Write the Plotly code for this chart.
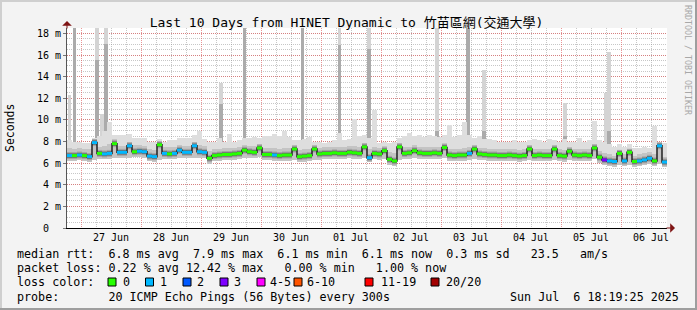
import pandas as pd
import plotly.graph_objects as go

# ---------------- data ----------------
start = "2025-06-26 18:24"
end = "2025-07-06 18:24"

median_ms = [6.7, 6.7, 6.75, 6.7, 6.6, 7.9, 6.9, 6.85, 6.9, 7.8,
             7.0, 7.0, 7.6, 7.05, 7.1, 7.05, 6.65, 6.6, 7.7, 6.9,
             6.85, 6.9, 7.2, 7.0, 7.0, 7.6, 7.05, 7.0, 6.45, 6.7,
             6.75, 6.8, 6.8, 6.85, 6.9, 7.2, 7.05, 7.0, 7.4, 6.8,
             6.8, 6.75, 6.7, 6.75, 6.75, 7.3, 6.6, 6.65, 6.7, 7.3,
             6.85, 6.9, 6.9, 6.95, 6.9, 6.9, 7.0, 6.95, 6.9, 7.5,
             6.5, 6.9, 6.85, 7.15, 6.35, 6.2, 7.5, 6.9, 6.95, 7.15,
             6.95, 6.9, 6.9, 6.95, 6.9, 7.45, 6.75, 6.7, 6.75, 6.75,
             6.9, 7.3, 6.85, 6.8, 6.75, 6.75, 6.7, 6.7, 6.75, 6.7,
             6.65, 6.7, 7.3, 6.7, 6.75, 6.7, 6.7, 7.3, 6.7, 6.65,
             7.1, 6.75, 6.7, 6.75, 6.7, 7.4, 6.55, 6.3, 6.2, 6.15,
             6.9, 6.2, 7.0, 6.15, 6.2, 6.3, 6.45, 6.2, 7.6, 6.1]

loss_count = [1, 0, 1, 0, 1, 1, 0, 1, 1, 0,
              1, 1, 1, 0, 1, 1, 1, 1, 0, 1,
              0, 1, 1, 1, 1, 1, 1, 1, 0, 0,
              0, 0, 0, 0, 0, 0, 0, 0, 0, 0,
              0, 1, 0, 0, 0, 0, 0, 0, 0, 0,
              0, 0, 0, 0, 0, 0, 0, 0, 0, 0,
              1, 0, 0, 0, 0, 0, 0, 0, 0, 0,
              0, 0, 0, 0, 0, 0, 0, 0, 0, 0,
              1, 0, 0, 0, 0, 0, 0, 0, 0, 0,
              0, 0, 0, 0, 0, 0, 0, 0, 0, 0,
              0, 0, 0, 0, 0, 0, 0, 3, 1, 1,
              0, 1, 0, 0, 1, 1, 1, 0, 1, 1]

ping_min = [6.2, 6.2, 6.3, 6.2, 6.1, 6.3, 6.4, 6.4, 6.4, 6.5,
            6.5, 6.5, 6.5, 6.6, 6.6, 6.5, 6.2, 6.1, 6.3, 6.4,
            6.4, 6.4, 6.5, 6.5, 6.5, 6.5, 6.5, 6.5, 5.9, 6.2,
            6.2, 6.3, 6.3, 6.3, 6.4, 6.5, 6.5, 6.5, 6.6, 6.3,
            6.3, 6.2, 6.2, 6.2, 6.2, 6.3, 6.1, 6.1, 6.2, 6.3,
            6.3, 6.4, 6.4, 6.4, 6.4, 6.4, 6.5, 6.4, 6.4, 6.5,
            6.1, 6.4, 6.3, 6.4, 5.8, 5.7, 6.3, 6.4, 6.4, 6.5,
            6.4, 6.4, 6.4, 6.4, 6.4, 6.5, 6.2, 6.2, 6.2, 6.2,
            6.3, 6.4, 6.3, 6.3, 6.2, 6.2, 6.2, 6.2, 6.2, 6.2,
            6.1, 6.2, 6.3, 6.2, 6.2, 6.2, 6.2, 6.3, 6.2, 6.1,
            6.3, 6.2, 6.2, 6.2, 6.2, 6.4, 6.0, 5.8, 5.7, 5.6,
            5.8, 5.7, 5.8, 5.6, 5.7, 5.8, 5.9, 5.7, 5.9, 5.6]

ping_hi = [7.4, 7.3, 7.4, 7.3, 7.3, 8.1, 7.5, 7.6, 7.8, 8.2,
           7.6, 7.6, 8.0, 7.7, 7.7, 7.6, 7.3, 7.2, 8.0, 7.5,
           7.5, 7.5, 7.7, 7.6, 7.6, 8.0, 7.7, 7.6, 7.1, 7.3,
           7.3, 7.4, 7.4, 7.4, 7.5, 7.7, 7.6, 7.6, 7.8, 7.4,
           7.4, 7.4, 7.3, 7.4, 7.4, 7.7, 7.2, 7.3, 7.3, 7.7,
           7.4, 7.5, 7.5, 7.5, 7.5, 7.5, 7.6, 7.6, 7.5, 7.9,
           7.3, 7.5, 7.4, 7.6, 7.0, 6.9, 7.9, 7.5, 7.5, 7.7,
           7.5, 7.5, 7.5, 7.5, 7.5, 7.9, 7.3, 7.3, 7.3, 7.4,
           7.5, 7.7, 7.4, 7.4, 7.3, 7.3, 7.3, 7.3, 7.3, 7.3,
           7.2, 7.3, 7.7, 7.3, 7.3, 7.3, 7.3, 7.7, 7.3, 7.2,
           7.5, 7.3, 7.3, 7.3, 7.3, 7.8, 7.1, 6.9, 6.8, 6.7,
           7.2, 6.8, 7.3, 6.7, 6.8, 6.9, 7.0, 6.8, 7.9, 6.6]

ping_max = [8.1, 8.0, 8.0, 7.9, 7.9, 8.3, 8.5, 9.0, 9.8, 8.6,
            8.6, 8.6, 8.7, 8.3, 8.3, 8.3, 8.0, 8.0, 8.2, 8.0,
            8.1, 8.1, 8.3, 8.3, 8.3, 8.6, 9.0, 8.2, 8.0, 8.0,
            8.3, 8.0, 8.7, 8.0, 8.1, 8.3, 8.3, 8.4, 8.3, 8.5,
            8.5, 8.7, 8.5, 9.0, 8.4, 8.1, 8.1, 8.2, 8.4, 8.0,
            8.0, 7.9, 8.0, 8.1, 8.8, 8.1, 8.2, 10.1, 8.5, 8.6,
            8.3, 10.9, 7.9, 8.0, 7.9, 8.0, 8.3, 8.5, 8.8, 8.5,
            8.6, 8.4, 8.6, 8.5, 8.4, 8.6, 9.5, 8.4, 8.6, 9.8,
            8.6, 8.3, 8.5, 8.2, 8.2, 8.1, 8.0, 8.0, 8.0, 8.1,
            8.0, 8.0, 8.1, 8.2, 8.1, 8.0, 8.2, 8.1, 8.0, 8.2,
            8.0, 8.0, 8.3, 8.0, 8.1, 9.9, 8.1, 8.0, 7.8, 7.5,
            7.8, 7.5, 7.8, 7.4, 7.4, 7.5, 7.4, 9.4, 8.0, 7.9]

spike_time = ["2025-06-26 19:24", "2025-06-26 21:24", "2025-06-27 06:24", "2025-06-27 08:24",
              "2025-06-27 10:00", "2025-06-29 08:00", "2025-06-29 17:24", "2025-06-30 16:36",
              "2025-07-01 07:24", "2025-07-01 19:12", "2025-07-02 22:24", "2025-07-03 10:48",
              "2025-07-03 17:12", "2025-07-05 01:36", "2025-07-05 18:00", "2025-07-05 19:12"]
spike_top = [12.3, 18.5, 18.5, 10.5, 18.5, 13.4, 18.5, 18.5, 18.5, 18.5, 18.5, 18.5, 14.6, 11.6, 12.5, 16.3]
spike_mid = [7.6, 18.5, 15.5, 8.2, 17.0, 11.5, 18.5, 18.5, 16.9, 16.6, 9.0, 18.5, 9.0, 8.5, 8.0, 9.0]
spike_base = [7.0, 7.0, 7.0, 7.0, 7.0, 7.0, 7.0, 7.0, 7.0, 7.0, 7.0, 7.0, 7.0, 7.0, 7.0, 7.0]

loss_labels = ["0", "1", "2", "3", "4-5", "6-10", "11-19", "20/20"]
loss_colors = ["#26ff00", "#00b8ff", "#0059ff", "#7e00ff", "#ff00ff", "#ff5500", "#ff0000", "#a10000"]

y_tick_vals = [0, 2, 4, 6, 8, 10, 12, 14, 16, 18]
y_tick_text = ["0\u00a0\u00a0", "2 m", "4 m", "6 m", "8 m", "10 m", "12 m", "14 m", "16 m", "18 m"]

title = "Last 10 Days from HINET Dynamic to 竹苗區網(交通大學)"
NB = "\u00a0"
legend_rows = [
    "median rtt:  6.8 ms avg  7.9 ms max  6.1 ms min  6.1 ms now  0.3 ms sd   23.5   am/s",
    "packet loss: 0.22 % avg 12.42 % max   0.00 % min   1.00 % now",
    "loss color:",
    "probe:       20 ICMP Echo Pings (56 Bytes) every 300s",
]
stamp = "Sun Jul  6 18:19:25 2025"

# ---------------- helpers ----------------
L, R, T, B = 67, 30, 28, 82
W, H = 697, 310
PW, PH = W - L - R, H - T - B


def px(xp):
    return (xp - L) / PW


def py(yp):
    return (T + PH - yp) / PH


def bucket(n):
    if n <= 3:
        return n
    if n <= 5:
        return 4
    if n <= 10:
        return 5
    if n <= 19:
        return 6
    return 7


FONT = "DejaVu Sans Mono, Noto Sans CJK TC, monospace"
bin_td = pd.Timedelta(hours=2)
bin_start = pd.date_range(pd.Timestamp(start), periods=len(median_ms), freq="2h")
bin_end = bin_start + bin_td
centers = bin_start + bin_td / 2
bin_ms = bin_td.total_seconds() * 1000
spike_ms = 1.5 * 3600 * 1000

fig = go.Figure()

# spikes (behind main smoke)
fig.add_bar(x=spike_time, y=[t - b for t, b in zip(spike_top, spike_base)], base=spike_base,
            width=spike_ms, marker=dict(color="#d4d4d4", line=dict(width=0)), hoverinfo="skip")
fig.add_bar(x=spike_time, y=[m - b for m, b in zip(spike_mid, spike_base)], base=spike_base,
            width=spike_ms, marker=dict(color="#ababab", line=dict(width=0)), hoverinfo="skip")

# smoke
fig.add_bar(x=centers, y=[mx - mn for mx, mn in zip(ping_max, ping_min)], base=ping_min,
            width=bin_ms, marker=dict(color="#dedede", line=dict(width=0)), hoverinfo="skip")
fig.add_bar(x=centers, y=[h - mn for h, mn in zip(ping_hi, ping_min)], base=ping_min,
            width=bin_ms, marker=dict(color="#c4c4c4", line=dict(width=0)), hoverinfo="skip")

# dark smoke around the median (horizontal segments)
seg_x, seg_y = [], []
for s, e, m in zip(bin_start, bin_end, median_ms):
    seg_x += [s, e, None]
    seg_y += [m, m, None]
fig.add_scatter(x=seg_x, y=seg_y, mode="lines", line=dict(color="#a4a4a4", width=7), hoverinfo="skip")
fig.add_scatter(x=seg_x, y=seg_y, mode="lines", line=dict(color="#6a6a6a", width=4.5), hoverinfo="skip")

# connectors
fig.add_scatter(x=list(bin_start) + [bin_end[-1]], y=median_ms + [median_ms[-1]], mode="lines",
                line=dict(color="#222222", width=1.5, shape="hv"), hoverinfo="skip")

# median coloured by loss
for ci, col in enumerate(loss_colors):
    xs, ys = [], []
    for s, e, m, n in zip(bin_start, bin_end, median_ms, loss_count):
        if bucket(n) == ci:
            xs += [s, e, None]
            ys += [m, m, None]
    if xs:
        fig.add_scatter(x=xs, y=ys, mode="lines", line=dict(color=col, width=3), hoverinfo="skip")

grid_minor = "rgba(143,143,143,0.5)"
grid_major = "rgba(222,80,80,0.6)"

fig.update_layout(
    width=W, height=H, margin=dict(l=L, r=R, t=T, b=B, pad=0),
    paper_bgcolor="#f3f3f3", plot_bgcolor="#ffffff",
    showlegend=False, barmode="overlay", bargap=0,
    font=dict(family=FONT, size=10, color="#000000"),
    title=dict(text=title, font=dict(family=FONT, size=13, color="#000000"),
               x=346.5 / W, xanchor="center", xref="container",
               y=1 - 22 / H, yanchor="middle", yref="container"),
)
fig.update_xaxes(
    type="date", range=[start, end],
    tick0="2025-06-27", dtick=86400000, ticklabelmode="period", tickformat="%d %b",
    ticks="", tickfont=dict(family=FONT, size=10),
    showgrid=True, gridcolor=grid_major, gridwidth=1, griddash="1px,1px",
    minor=dict(dtick=21600000, tick0="2025-06-27", showgrid=True, gridcolor=grid_minor,
               griddash="1px,1px", gridwidth=1),
    showline=True, linecolor="#000000", linewidth=1, zeroline=False, layer="above traces",
)
fig.update_yaxes(
    range=[0, 18.5], tickvals=y_tick_vals, ticktext=y_tick_text,
    ticks="outside", ticklen=3, tickcolor="#777777", tickfont=dict(family=FONT, size=10),
    showgrid=True, gridcolor=grid_major, gridwidth=1, griddash="1px,1px",
    minor=dict(dtick=0.5, showgrid=True, gridcolor=grid_minor, griddash="1px,1px", gridwidth=1),
    showline=True, linecolor="#555555", linewidth=1, zeroline=False,
)

ann = []
# axis arrows
ann.append(dict(x=0, y=py(21), xref="paper", yref="paper", text="", showarrow=True,
                ax=0, ay=9, arrowhead=1, arrowsize=1.6, arrowwidth=1, arrowcolor="#7f1414"))
ann.append(dict(x=px(675), y=0, xref="paper", yref="paper", text="", showarrow=True,
                ax=-10, ay=0, arrowhead=1, arrowsize=1.6, arrowwidth=1, arrowcolor="#7f1414"))
# y title
ann.append(dict(x=px(10), y=py(128), xref="paper", yref="paper", text="Seconds", showarrow=False,
                textangle=-90, font=dict(family=FONT, size=11.5, color="#000"),
                xanchor="center", yanchor="middle"))
# watermark
ann.append(dict(x=px(688), y=py(60), xref="paper", yref="paper", text="RRDTOOL / TOBI OETIKER",
                showarrow=False, textangle=90, font=dict(family=FONT, size=8.3, color="#a8a8a8"),
                xanchor="center", yanchor="middle"))
# legend rows
row_y = [253.5, 268.3, 282.0, 296.7]
for txt, yy in zip(legend_rows, row_y):
    ann.append(dict(x=px(16), y=py(yy), xref="paper", yref="paper", text=txt.replace(" ", NB),
                    showarrow=False, xanchor="left", yanchor="middle", borderpad=0,
                    font=dict(family=FONT, size=11.7, color="#000")))
ann.append(dict(x=px(680), y=py(row_y[3]), xref="paper", yref="paper", text=stamp.replace(" ", NB),
                showarrow=False, xanchor="right", yanchor="middle", borderpad=0,
                font=dict(family=FONT, size=11.7, color="#000")))

shapes = []
sq_x = [108, 145.5, 183, 220, 257, 294, 365, 431]
lab_x = [122, 159, 196, 233, 269, 306, 379.5, 445]
for lab, col, sx, lx in zip(loss_labels, loss_colors, sq_x, lab_x):
    shapes.append(dict(type="rect", xref="paper", yref="paper",
                       x0=px(sx), x1=px(sx + 8), y0=py(286), y1=py(278),
                       fillcolor=col, line=dict(color="#000000", width=1)))
    ann.append(dict(x=px(lx), y=py(row_y[2]), xref="paper", yref="paper", text=lab,
                    showarrow=False, xanchor="left", yanchor="middle", borderpad=0,
                    font=dict(family=FONT, size=11.7, color="#000")))

# frame (light top/left, dark bottom/right)
shapes += [
    dict(type="rect", xref="paper", yref="paper", x0=px(0), x1=px(W), y0=py(2), y1=py(0),
         fillcolor="#cfcfcf", line=dict(width=0)),
    dict(type="rect", xref="paper", yref="paper", x0=px(0), x1=px(2), y0=py(H), y1=py(0),
         fillcolor="#cfcfcf", line=dict(width=0)),
    dict(type="rect", xref="paper", yref="paper", x0=px(0), x1=px(W), y0=py(H), y1=py(H - 2),
         fillcolor="#9e9e9e", line=dict(width=0)),
    dict(type="rect", xref="paper", yref="paper", x0=px(W - 2), x1=px(W), y0=py(H), y1=py(0),
         fillcolor="#9e9e9e", line=dict(width=0)),
]

fig.update_layout(annotations=ann, shapes=shapes)
fig.write_html("out.html")
